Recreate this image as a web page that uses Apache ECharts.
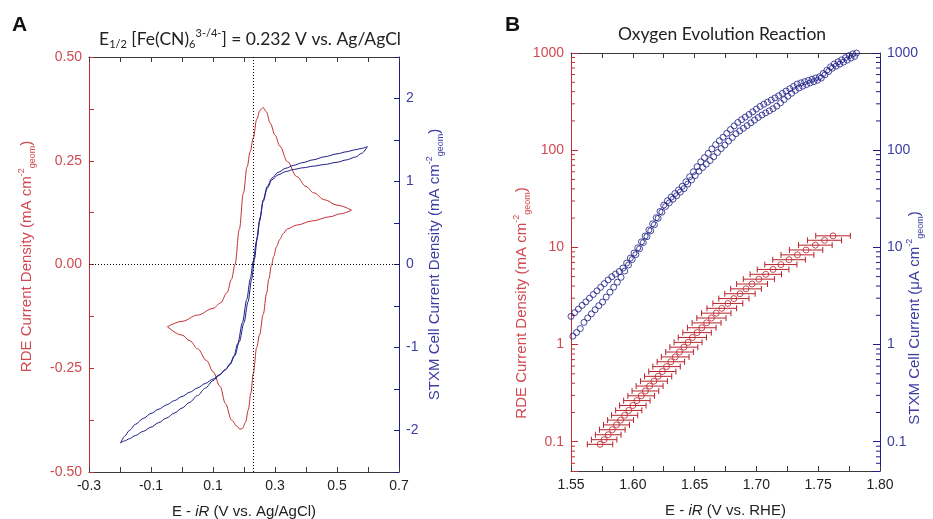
<!DOCTYPE html>
<html><head><meta charset="utf-8">
<script src="https://cdn.jsdelivr.net/npm/echarts@6/dist/echarts.min.js"></script>
<style>html,body{margin:0;padding:0;background:#fff}#c{width:933px;height:519px}</style>
</head><body><div id="c"></div>
<script>
// ---------- Panel A : cyclic voltammograms ----------
const e12 = 0.232;
const rdeFwdE = [-0.047, 0.000, 0.050, 0.100, 0.125, 0.145, 0.160, 0.171, 0.185, 0.198, 0.210, 0.220, 0.230, 0.241, 0.252, 0.262, 0.272, 0.285, 0.300, 0.316, 0.340, 0.370, 0.400, 0.424, 0.460, 0.500, 0.547];
const rdeFwdJ = [-0.150, -0.137, -0.122, -0.106, -0.092, -0.068, -0.035, 0.000, 0.085, 0.172, 0.235, 0.272, 0.305, 0.350, 0.372, 0.378, 0.368, 0.340, 0.312, 0.285, 0.248, 0.212, 0.188, 0.173, 0.156, 0.143, 0.131];
const rdeRevE = [0.547, 0.510, 0.477, 0.420, 0.370, 0.340, 0.327, 0.315, 0.305, 0.296, 0.289, 0.280, 0.273, 0.262, 0.250, 0.241, 0.230, 0.222, 0.214, 0.205, 0.195, 0.187, 0.178, 0.160, 0.140, 0.123, 0.100, 0.080, 0.050, 0.026, 0.000, -0.047];
const rdeRevJ = [0.131, 0.122, 0.115, 0.105, 0.095, 0.086, 0.075, 0.060, 0.043, 0.020, 0.000, -0.035, -0.069, -0.120, -0.170, -0.200, -0.262, -0.310, -0.350, -0.380, -0.395, -0.397, -0.390, -0.375, -0.335, -0.294, -0.258, -0.232, -0.203, -0.184, -0.170, -0.150];
const stxmFwdE = [-0.198, -0.185, -0.170, -0.150, -0.125, -0.100, -0.075, -0.050, -0.025, 0.000, 0.025, 0.050, 0.075, 0.100, 0.120, 0.140, 0.155, 0.168, 0.180, 0.195, 0.209, 0.220, 0.230, 0.240, 0.250, 0.262, 0.275, 0.290, 0.310, 0.335, 0.360, 0.390, 0.424, 0.460, 0.500, 0.530, 0.560, 0.580, 0.598];
const stxmFwdJ = [-2.150, -2.070, -2.000, -1.925, -1.855, -1.795, -1.743, -1.692, -1.641, -1.590, -1.539, -1.487, -1.434, -1.380, -1.330, -1.265, -1.195, -1.100, -0.950, -0.700, -0.420, -0.180, 0.040, 0.280, 0.520, 0.760, 0.920, 1.020, 1.080, 1.120, 1.145, 1.165, 1.185, 1.205, 1.232, 1.260, 1.295, 1.340, 1.420];
const stxmRevE = [0.598, 0.580, 0.560, 0.530, 0.500, 0.460, 0.424, 0.390, 0.360, 0.335, 0.310, 0.290, 0.275, 0.262, 0.252, 0.243, 0.234, 0.225, 0.213, 0.200, 0.185, 0.170, 0.155, 0.140, 0.120, 0.100, 0.075, 0.050, 0.025, 0.000, -0.025, -0.050, -0.075, -0.100, -0.125, -0.150, -0.170, -0.185, -0.198];
const stxmRevJ = [1.420, 1.400, 1.383, 1.358, 1.333, 1.298, 1.262, 1.228, 1.195, 1.160, 1.110, 1.040, 0.940, 0.780, 0.570, 0.330, 0.070, -0.170, -0.450, -0.700, -0.930, -1.100, -1.205, -1.270, -1.335, -1.400, -1.490, -1.580, -1.660, -1.730, -1.790, -1.850, -1.905, -1.960, -2.010, -2.060, -2.100, -2.125, -2.150];

// ---------- Panel B : OER ----------
const rdeOerE = [1.5735,1.5768,1.5801,1.5834,1.5868,1.5901,1.5934,1.5967,1.6000,1.6033,1.6068,1.6102,1.6136,1.6171,1.6205,1.6239,1.6273,1.6308,1.6343,1.6378,1.6413,1.6447,1.6482,1.6520,1.6558,1.6597,1.6636,1.6675,1.6720,1.6769,1.6818,1.6867,1.6916,1.6965,1.7020,1.7076,1.7135,1.7198,1.7264,1.7332,1.7402,1.7477,1.7551,1.7620];
const rdeOerJ = [0.094,0.105,0.118,0.133,0.149,0.167,0.187,0.210,0.236,0.265,0.297,0.333,0.374,0.420,0.471,0.528,0.593,0.665,0.746,0.838,0.940,1.054,1.183,1.327,1.489,1.671,1.875,2.104,2.360,2.649,2.972,3.334,3.741,4.198,4.710,5.284,5.929,6.653,7.464,8.375,9.397,10.54,11.83,13.15];
const rdeOerErr = [0.0103,0.0103,0.0104,0.0104,0.0105,0.0105,0.0106,0.0106,0.0107,0.0107,0.0108,0.0108,0.0109,0.0109,0.0110,0.0110,0.0111,0.0111,0.0112,0.0112,0.0113,0.0113,0.0114,0.0115,0.0116,0.0117,0.0118,0.0119,0.0120,0.0121,0.0122,0.0123,0.0124,0.0125,0.0126,0.0127,0.0128,0.0130,0.0132,0.0133,0.0135,0.0136,0.0138,0.0140];
const stxmRun1E = [1.550,1.553,1.556,1.559,1.562,1.565,1.568,1.571,1.574,1.577,1.580,1.583,1.586,1.589,1.592,1.595,1.598,1.601,1.604,1.607,1.610,1.613,1.616,1.619,1.622,1.625,1.628,1.631,1.634,1.637,1.640,1.643,1.646,1.649,1.652,1.655,1.658,1.661,1.664,1.667,1.670,1.673,1.676,1.679,1.682,1.685,1.688,1.691,1.694,1.697,1.700,1.703,1.706,1.709,1.712,1.715,1.718,1.721,1.724,1.727,1.730,1.733,1.736,1.739,1.742,1.745,1.748,1.751,1.754,1.757,1.760,1.763,1.766,1.769,1.772,1.775,1.778,1.781];
const stxmRun1I = [1.95,2.13,2.32,2.53,2.75,3.00,3.27,3.57,3.89,4.24,4.62,4.99,5.31,5.65,6.12,6.89,7.75,8.73,9.89,11.4,13.1,15.1,17.5,20.2,23.4,27.2,30.2,32.9,35.8,39.0,42.5,47.3,53.2,60.0,67.6,75.9,83.8,92.7,103,114,125,136,149,163,178,193,206,219,233,248,265,282,297,312,328,345,363,384,406,429,453,479,493,507,522,537,553,569,615,665,720,771,811,851,895,940,980,1000];
const stxmRun2E = [1.5515,1.5545,1.5575,1.5605,1.5635,1.5665,1.5695,1.5725,1.5755,1.5785,1.5815,1.5845,1.5875,1.5905,1.5935,1.5965,1.5995,1.6025,1.6055,1.6085,1.6115,1.6145,1.6175,1.6205,1.6235,1.6265,1.6295,1.6325,1.6355,1.6385,1.6415,1.6445,1.6475,1.6505,1.6535,1.6565,1.6595,1.6625,1.6655,1.6685,1.6715,1.6745,1.6775,1.6805,1.6835,1.6865,1.6895,1.6925,1.6955,1.6985,1.7015,1.7045,1.7075,1.7105,1.7135,1.7165,1.7195,1.7225,1.7255,1.7285,1.7315,1.7345,1.7375,1.7405,1.7435,1.7465,1.7495,1.7525,1.7555,1.7585,1.7615,1.7645,1.7675,1.7705,1.7735,1.7765,1.7795];
const stxmRun2I = [1.22,1.33,1.46,1.69,1.88,2.07,2.28,2.51,2.74,3.08,3.46,3.89,4.38,4.92,5.71,6.59,7.50,8.43,9.68,11.2,12.9,14.8,17.1,19.9,23.0,26.4,28.7,31.3,34.0,37.1,40.2,44.8,49.4,54.8,60.8,66.4,71.9,78.3,85.7,94.6,104,113,124,135,148,158,168,179,191,204,217,230,242,254,267,284,307,332,359,385,412,436,455,473,492,508,524,552,597,646,698,733,769,805,845,887,923];
const logMinorTicks = [0.06,0.07,0.08,0.09,0.2,0.3,0.4,0.5,0.6,0.7,0.8,0.9,2,3,4,5,6,7,8,9,20,30,40,50,60,70,80,90,200,300,400,500,600,700,800,900];
const xBMin = 1.55, xBMax = 1.80;

// ---------- styling ----------
const RED = '#c23034', REDTXT = '#cf4a50', REDB = '#b8222a';
const BLUE = '#1c1c86', BLUETXT = '#3c3ca2';
const AX = '#3a3a3a';
const F = 'Liberation Sans, Arial, sans-serif';
const zip = (a, b) => a.map((v, i) => [v, b[i]]);

function nameRich(color) {
  return {
    t: { fontSize: 15, fontFamily: F, color: color, lineHeight: 20 },
    i: { fontSize: 15, fontFamily: F, color: color, fontStyle: 'italic', lineHeight: 20 },
    sup: { fontSize: 9, fontFamily: F, color: color, verticalAlign: 'top', lineHeight: 9 },
    sub: { fontSize: 9, fontFamily: F, color: color, verticalAlign: 'bottom', lineHeight: 9 }
  };
}
const logLabel = v => {
  const l = Math.log10(v);
  if (Math.abs(l - Math.round(l)) > 1e-6) return '';
  return String(+Math.pow(10, Math.round(l)).toPrecision(3));
};
const tickInside = c => ({ show: true, inside: true, length: 5, lineStyle: { color: c, width: 1 } });
const hollow = (c) => ({ color: 'rgba(255,255,255,0)', borderColor: c, borderWidth: 1 });

const option = {
  animation: false,
  backgroundColor: '#fff',
  grid: [
    { left: 89, top: 57, width: 310, height: 415, outerBoundsMode: 'none', containLabel: false },
    { left: 571, top: 53, width: 309, height: 418, outerBoundsMode: 'none', containLabel: false }
  ],
  xAxis: [
    { type: 'value', gridIndex: 0, position: 'bottom', min: -0.3, max: 0.7, interval: 0.1,
      axisLine: { show: true, onZero: false, lineStyle: { color: AX } }, axisTick: tickInside(AX), splitLine: { show: false },
      axisLabel: { color: '#222', fontSize: 14, fontFamily: F, margin: 7,
        formatter: v => (Math.abs(Math.round(v * 10)) % 2 === 1 ? v.toFixed(1) : '') },
      name: '{t|E - }{i|iR}{t| (V vs. Ag/AgCl)}', nameLocation: 'middle', nameGap: 30, nameMoveOverlap: false,
      nameTextStyle: { rich: nameRich('#222') } },
    { type: 'value', gridIndex: 0, position: 'top', min: -0.3, max: 0.7, interval: 0.1,
      axisLine: { show: true, onZero: false, lineStyle: { color: AX } }, axisTick: tickInside(AX),
      axisLabel: { show: false }, splitLine: { show: false } },
    { type: 'value', gridIndex: 1, position: 'bottom', min: xBMin, max: xBMax, interval: 0.025,
      axisLine: { show: true, onZero: false, lineStyle: { color: AX } }, axisTick: tickInside(AX), splitLine: { show: false },
      axisLabel: { color: '#222', fontSize: 14, fontFamily: F, margin: 7,
        formatter: v => (Math.round(v * 1000) % 50 === 0 ? v.toFixed(2) : '') },
      name: '{t|E - }{i|iR}{t| (V vs. RHE)}', nameLocation: 'middle', nameGap: 30, nameMoveOverlap: false,
      nameTextStyle: { rich: nameRich('#222') } },
    { type: 'value', gridIndex: 1, position: 'top', min: xBMin, max: xBMax, interval: 0.025,
      axisLine: { show: true, onZero: false, lineStyle: { color: AX } }, axisTick: tickInside(AX),
      axisLabel: { show: false }, splitLine: { show: false } }
  ],
  yAxis: [
    { type: 'value', gridIndex: 0, position: 'left', min: -0.5, max: 0.5, interval: 0.125,
      axisLine: { show: true, onZero: false, lineStyle: { color: RED } }, axisTick: tickInside(RED), splitLine: { show: false },
      axisLabel: { color: REDTXT, fontSize: 14, fontFamily: F, margin: 7,
        formatter: v => (Math.abs(Math.round(v * 8)) % 2 === 0 ? v.toFixed(2) : '') },
      name: '{t|RDE Current Density (mA cm}{sup|-2}{sub|geom}{t|)}', nameLocation: 'middle', nameGap: 52, nameMoveOverlap: false,
      nameTextStyle: { padding: [0, 0, 0, 16], rich: nameRich(REDTXT) } },
    { type: 'value', gridIndex: 0, position: 'right', min: -2.5, max: 2.5, interval: 0.5,
      axisLine: { show: true, onZero: false, lineStyle: { color: BLUE } }, axisTick: tickInside(BLUE), splitLine: { show: false },
      axisLabel: { color: BLUETXT, fontSize: 14, fontFamily: F, margin: 7,
        formatter: v => (Math.abs(v - Math.round(v)) < 1e-6 ? String(Math.round(v)) : '') },
      name: '{t|STXM Cell Current Density (mA cm}{sup|-2}{sub|geom}{t|)}', nameLocation: 'middle', nameGap: 26, nameMoveOverlap: false,
      nameTextStyle: { rich: nameRich(BLUETXT) } },
    { type: 'log', gridIndex: 1, position: 'left', min: 0.05, max: 1000, logBase: 10,
      axisLine: { show: true, onZero: false, lineStyle: { color: RED } }, axisTick: { show: true, inside: true, length: 7, lineStyle: { color: RED } },
      splitLine: { show: false }, minorTick: { show: false },
      axisLabel: { color: REDTXT, fontSize: 14, fontFamily: F, margin: 7, formatter: logLabel },
      name: '{t|RDE Current Density (mA cm}{sup|-2}{sub|geom}{t|)}', nameLocation: 'middle', nameGap: 39, nameMoveOverlap: false,
      nameTextStyle: { padding: [0, 82, 0, 0], rich: nameRich(REDTXT) } },
    { type: 'log', gridIndex: 1, position: 'right', min: 0.05, max: 1000, logBase: 10,
      axisLine: { show: true, onZero: false, lineStyle: { color: BLUE } }, axisTick: { show: true, inside: true, length: 7, lineStyle: { color: BLUE } },
      splitLine: { show: false },
      axisLabel: { color: BLUETXT, fontSize: 14, fontFamily: F, margin: 7, formatter: logLabel },
      name: '{t|STXM Cell Current (\u03bcA cm}{sup|-2}{sub|geom}{t|)}', nameLocation: 'middle', nameGap: 25, nameMoveOverlap: false,
      nameTextStyle: { padding: [0, 112, 0, 0], rich: nameRich(BLUETXT) } }
  ],
  graphic: [
    { type: 'text', left: 12, top: 15, style: { text: 'A', font: 'bold 21px Liberation Sans, Arial', fill: '#111' } },
    { type: 'text', left: 505, top: 15, style: { text: 'B', font: 'bold 21px Liberation Sans, Arial', fill: '#111' } },
    { type: 'text', x: 250, y: 39, style: {
        text: '{t|E}{sub|1/2}{t| [Fe(CN)}{sub|6}{sup|3-/4-}{t|] = 0.232 V vs. Ag/AgCl}',
        align: 'center', verticalAlign: 'middle',
        rich: {
          t: { fontSize: 17.5, fontFamily: 'Lato', fill: '#222', lineHeight: 22 },
          sub: { fontSize: 11, fontFamily: 'Lato', fill: '#222', verticalAlign: 'bottom', lineHeight: 10 },
          sup: { fontSize: 11, fontFamily: 'Lato', fill: '#222', verticalAlign: 'top', lineHeight: 10 }
        } } },
    { type: 'text', x: 722, y: 34, style: { text: 'Oxygen Evolution Reaction', align: 'center', verticalAlign: 'middle',
        font: '17.5px Lato', fill: '#222' } }
  ],
  series: [
    { name: 'RDE fwd', type: 'line', xAxisIndex: 0, yAxisIndex: 0, data: zip(rdeFwdE, rdeFwdJ),
      showSymbol: false, smooth: 0.35, smoothMonotone: 'x', lineStyle: { color: RED, width: 1 }, z: 3,
      markLine: { silent: true, symbol: ['none', 'none'], label: { show: false },
        lineStyle: { type: [1, 2], color: '#000', width: 1 },
        data: [{ xAxis: e12 }, { yAxis: 0 }] } },
    { name: 'RDE rev', type: 'line', xAxisIndex: 0, yAxisIndex: 0, data: zip(rdeRevE, rdeRevJ),
      showSymbol: false, smooth: 0.35, smoothMonotone: 'x', lineStyle: { color: RED, width: 1 }, z: 3 },
    { name: 'STXM fwd', type: 'line', xAxisIndex: 0, yAxisIndex: 1, data: zip(stxmFwdE, stxmFwdJ),
      showSymbol: false, smooth: 0.3, smoothMonotone: 'x', lineStyle: { color: BLUE, width: 1 }, z: 4 },
    { name: 'STXM rev', type: 'line', xAxisIndex: 0, yAxisIndex: 1, data: zip(stxmRevE, stxmRevJ),
      showSymbol: false, smooth: 0.3, smoothMonotone: 'x', lineStyle: { color: BLUE, width: 1 }, z: 4 },
    { name: 'RDE OER err', type: 'custom', xAxisIndex: 2, yAxisIndex: 2, silent: true,
      data: rdeOerE.map((e, i) => [e, rdeOerJ[i], rdeOerErr[i]]), encode: { x: 0, y: 1 },
      renderItem: (params, api) => {
        const x = api.value(0), y = api.value(1), e = api.value(2);
        const p0 = api.coord([x - e, y]), p1 = api.coord([x + e, y]);
        const st = { stroke: REDB, lineWidth: 1 };
        return { type: 'group', children: [
          { type: 'line', shape: { x1: p0[0], y1: p0[1], x2: p1[0], y2: p1[1] }, style: st },
          { type: 'line', shape: { x1: p0[0], y1: p0[1] - 3, x2: p0[0], y2: p0[1] + 3 }, style: st },
          { type: 'line', shape: { x1: p1[0], y1: p1[1] - 3, x2: p1[0], y2: p1[1] + 3 }, style: st }
        ] };
      } },
    { name: 'RDE OER', type: 'scatter', xAxisIndex: 2, yAxisIndex: 2, data: zip(rdeOerE, rdeOerJ),
      symbol: 'circle', symbolSize: 6, itemStyle: hollow(REDB), z: 4 },
    { name: 'STXM run 1', type: 'scatter', xAxisIndex: 2, yAxisIndex: 3, data: zip(stxmRun1E, stxmRun1I),
      symbol: 'circle', symbolSize: 6, itemStyle: hollow(BLUE), z: 4 },
    { name: 'STXM run 2', type: 'scatter', xAxisIndex: 2, yAxisIndex: 3, data: zip(stxmRun2E, stxmRun2I),
      symbol: 'circle', symbolSize: 6, itemStyle: hollow(BLUE), z: 4 },
    { name: 'log minor ticks', type: 'custom', xAxisIndex: 2, yAxisIndex: 2, silent: true, clip: false,
      data: logMinorTicks.map(v => [xBMin, v]), encode: { x: 0, y: 1 },
      renderItem: (params, api) => {
        const v = api.value(1);
        const pl = api.coord([xBMin, v]), pr = api.coord([xBMax, v]);
        return { type: 'group', children: [
          { type: 'line', shape: { x1: pl[0], y1: pl[1], x2: pl[0] + 4, y2: pl[1] }, style: { stroke: RED, lineWidth: 1 } },
          { type: 'line', shape: { x1: pr[0], y1: pr[1], x2: pr[0] - 4, y2: pr[1] }, style: { stroke: BLUE, lineWidth: 1 } }
        ] };
      } }
  ]
};
const chart = echarts.init(document.getElementById('c'), null, { renderer: 'canvas' });
chart.setOption(option);
</script>
</body></html>
